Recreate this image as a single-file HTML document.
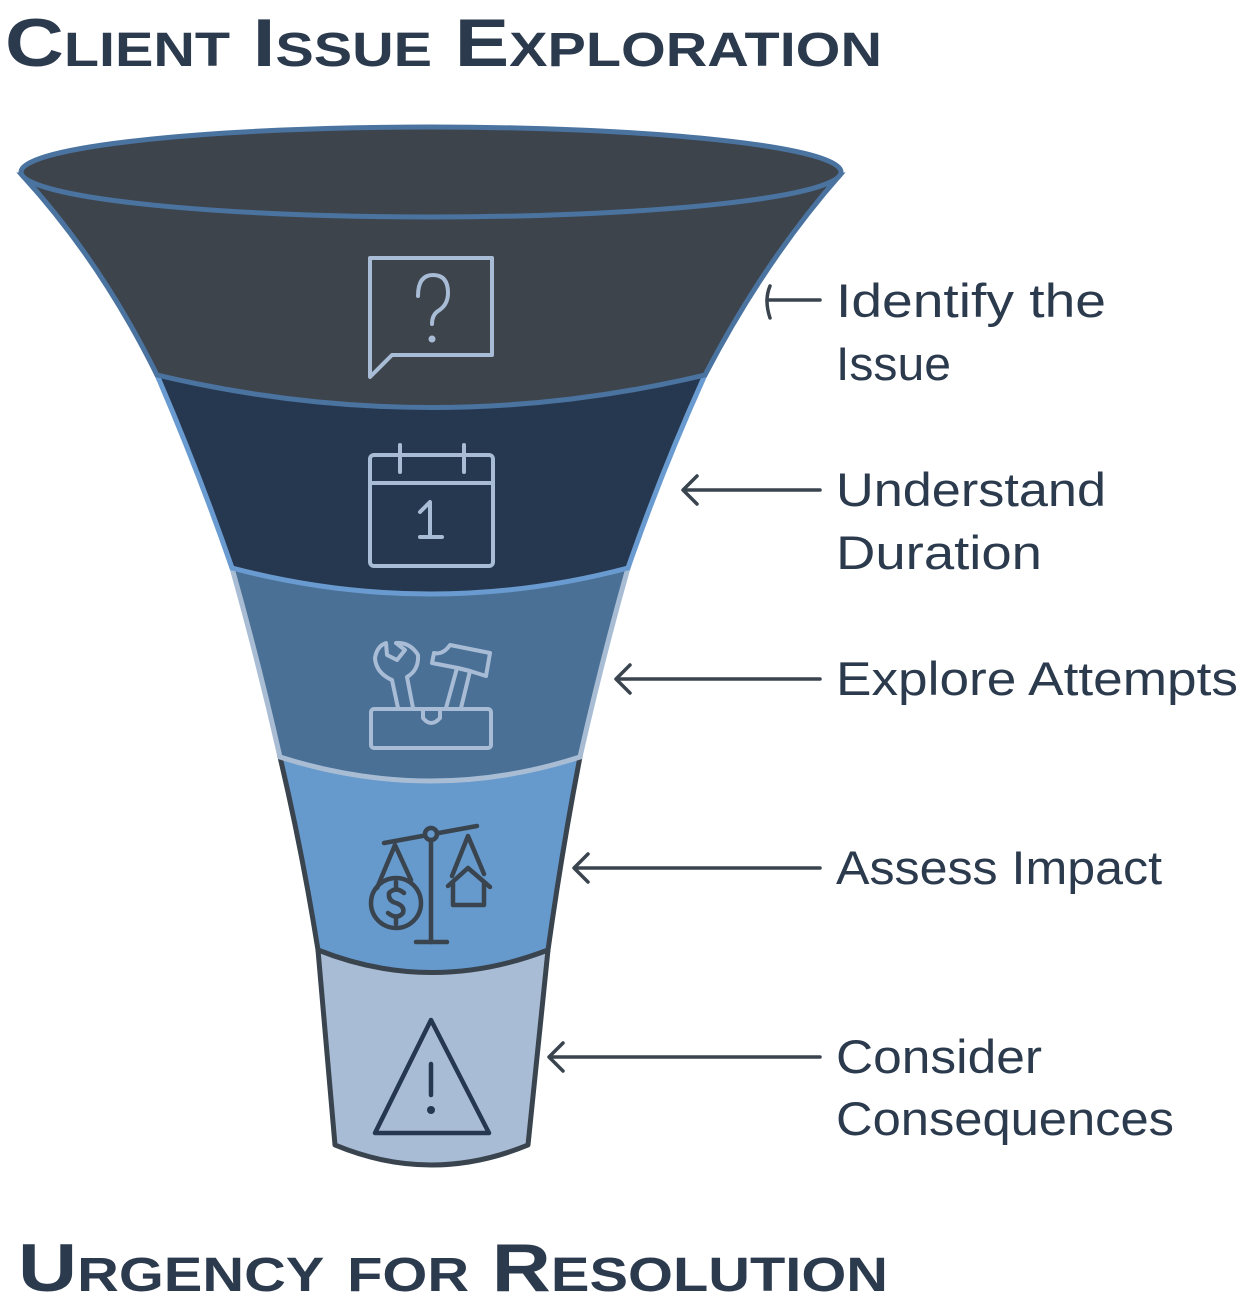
<!DOCTYPE html>
<html><head><meta charset="utf-8"><style>
html,body{margin:0;padding:0;background:#fff;}
svg{display:block;}
text{font-family:"Liberation Sans",sans-serif;}
</style></head><body>
<svg width="1250" height="1312" viewBox="0 0 1250 1312" xmlns="http://www.w3.org/2000/svg">
<text x="5" y="66" font-size="68" font-weight="bold" fill="#2b3a4d" style="font-variant:small-caps" textLength="877" lengthAdjust="spacingAndGlyphs">Client Issue Exploration</text>
<text x="18" y="1291" font-size="68" font-weight="bold" fill="#2b3a4d" style="font-variant:small-caps" textLength="870" lengthAdjust="spacingAndGlyphs">Urgency for Resolution</text>

<path d="M318,950 Q327,1050 335,1145 Q431,1185 528,1145 Q538,1050 548,950 Z" fill="#a8bcd6" stroke="#3a444e" stroke-width="5" stroke-linejoin="round"/>
<path d="M280,757 Q302,850 318,950 Q431,995 548,950 Q562,850 580,757 Z" fill="#6699cc" stroke="#3a444e" stroke-width="5"/>
<path d="M232,568 Q258,660 280,757 Q431,805 580,757 Q602,660 628,568 Z" fill="#4a7096" stroke="#a8bcd4" stroke-width="5"/>
<path d="M157,375 Q198,470 232,568 Q431,620 628,568 Q662,470 705,375 Z" fill="#263850" stroke="#6a9bd0" stroke-width="5"/>
<path d="M22,175 Q100,260 157,375 Q431,440 705,375 Q765,260 840,175 Z" fill="#3d444c" stroke="#4a73a0" stroke-width="5"/>
<ellipse cx="431" cy="172" rx="410" ry="45" fill="#3d444c" stroke="#4a73a0" stroke-width="5"/>

<g fill="none" stroke="#a8bcd6" stroke-width="4" stroke-linecap="round" stroke-linejoin="round">
<path d="M370,377 V258 H492 V355 H392 Z"/>
<path d="M418,296 Q418,275 433,275 Q448,275 448,293 Q448,305 438,311 Q432,315 432,324"/>
</g>
<circle cx="432" cy="339" r="3.5" fill="#a8bcd6"/>
<g fill="none" stroke="#a8bcd6" stroke-width="4" stroke-linecap="round" stroke-linejoin="round">
<rect x="370" y="455" width="123" height="111" rx="4"/>
<line x1="370" y1="483" x2="493" y2="483"/>
<line x1="400" y1="445" x2="400" y2="472"/>
<line x1="464" y1="445" x2="464" y2="472"/>
<path d="M420,512 L430,502 V537 M420,537 H442"/>
</g>
<!-- toolbox -->
<g fill="none" stroke="#a8bcd6" stroke-width="4" stroke-linecap="round" stroke-linejoin="round">
<rect x="371" y="685" width="120" height="63" rx="3" opacity="0"/>
<rect x="371" y="709" width="120" height="39" rx="3"/>
<path d="M398,708 L392,680 Q376,673 375,658 Q377,646 386,643 L387,655 L397,660 L405,650 L396,643 Q410,642 418,655 Q419,670 407,677 L413,708"/>
<path d="M423,709 V718 Q431,728 440,718 V709"/>
<path d="M446,708 L457,668 L470,671 L461,708"/>
<path d="M432,663 L434,653 Q443,655 450,645 L490,653 L486,676 L470,671 L458,668 Z"/>
</g>
<g fill="none" stroke="#3a444e" stroke-width="4.5" stroke-linecap="round" stroke-linejoin="round">
<line x1="384" y1="843" x2="477" y2="826"/>
<circle cx="431" cy="834" r="6" fill="#6699cc"/>
<line x1="431" y1="840" x2="431" y2="942"/>
<line x1="416" y1="942" x2="447" y2="942"/>
<path d="M377,888 L395,845 L411,880"/>
<circle cx="396" cy="903" r="25"/>
<path d="M404,893 Q396,886 389,893 Q388,901 396,903 Q405,906 403,913 Q397,920 388,913 M396,882 V888 M396,918 V924"/>
<path d="M452,876 L468,836 L484,874"/>
<path d="M448,886 L468,868 L490,887 M453,883 V905 H484 V883"/>
</g>
<g fill="none" stroke="#263850" stroke-width="4.5" stroke-linecap="round" stroke-linejoin="round">
<path d="M431,1020 L375,1133 H489 Z"/>
<line x1="431" y1="1064" x2="431" y2="1095"/>
</g>
<circle cx="431" cy="1110" r="4" fill="#263850"/>

<g fill="none" stroke="#3a444e" stroke-width="3.5" stroke-linecap="round" stroke-linejoin="round">
<line x1="820" y1="300" x2="767" y2="300"/><path d="M770,286 Q764,300 770,318"/>
<line x1="820" y1="490" x2="684" y2="490"/><path d="M697,476 L683,490 L697,504"/>
<line x1="820" y1="679" x2="617" y2="679"/><path d="M630,665 L616,679 L630,693"/>
<line x1="820" y1="868" x2="575" y2="868"/><path d="M588,854 L574,868 L588,882"/>
<line x1="820" y1="1057" x2="550" y2="1057"/><path d="M563,1043 L549,1057 L563,1071"/>
</g>

<g font-size="47" fill="#2b3a4d">
<text x="836" y="317" textLength="270" lengthAdjust="spacingAndGlyphs">Identify the</text>
<text x="836" y="380" textLength="115" lengthAdjust="spacingAndGlyphs">Issue</text>
<text x="836" y="506" textLength="270" lengthAdjust="spacingAndGlyphs">Understand</text>
<text x="836" y="569" textLength="206" lengthAdjust="spacingAndGlyphs">Duration</text>
<text x="836" y="695" textLength="402" lengthAdjust="spacingAndGlyphs">Explore Attempts</text>
<text x="836" y="884" textLength="326" lengthAdjust="spacingAndGlyphs">Assess Impact</text>
<text x="836" y="1073" textLength="206" lengthAdjust="spacingAndGlyphs">Consider</text>
<text x="836" y="1135" textLength="338" lengthAdjust="spacingAndGlyphs">Consequences</text>
</g>
</svg>
</body></html>
